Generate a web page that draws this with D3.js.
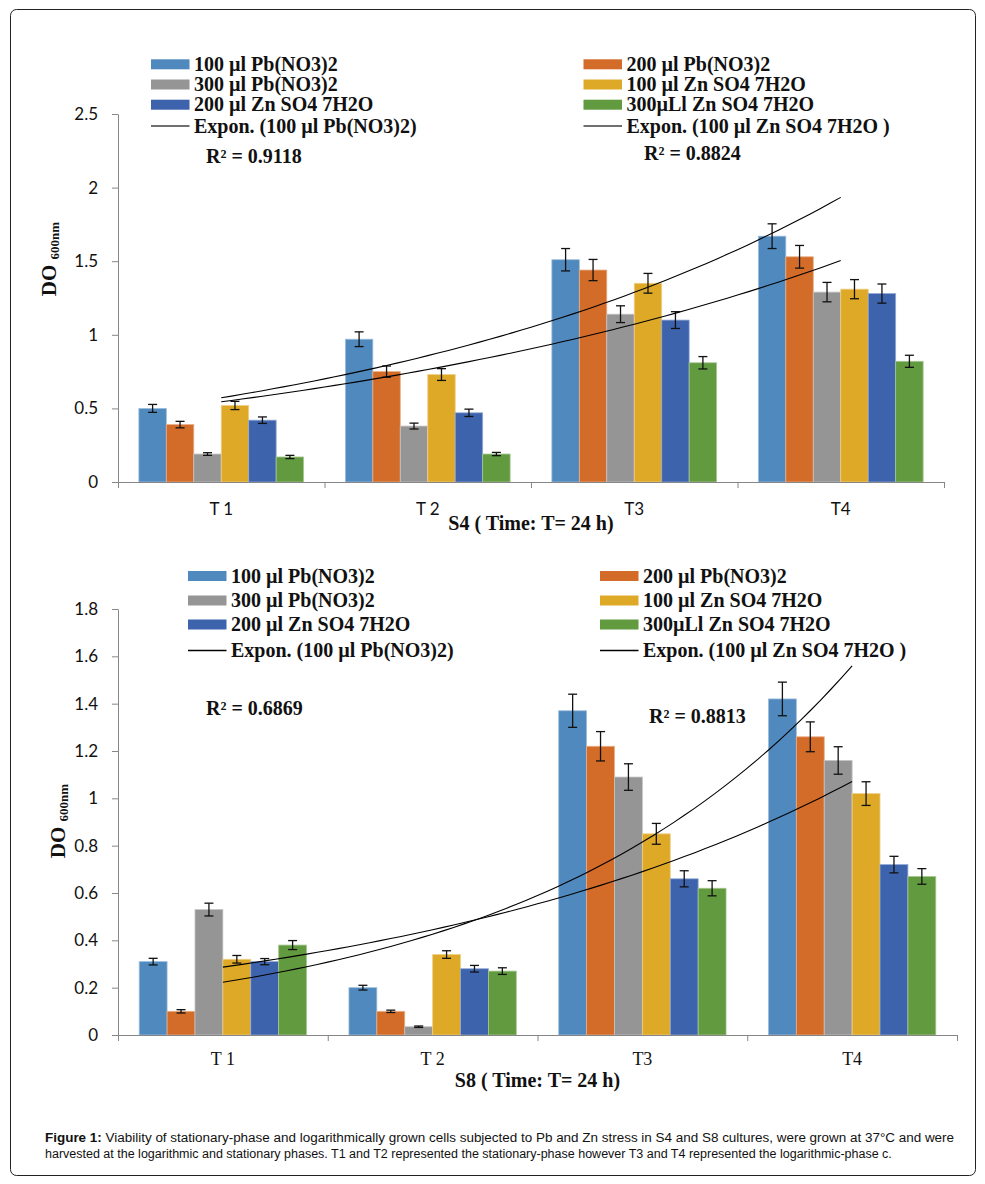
<!DOCTYPE html>
<html>
<head>
<meta charset="utf-8">
<script src="https://cdn.jsdelivr.net/npm/d3@7"></script>
<style>
  html, body { margin: 0; padding: 0; background: #fff; }
  svg { display: block; }
</style>
</head>
<body>
<script>
// ---------------- DATA ----------------
const categories = ["T 1", "T 2", "T3", "T4"];
const seriesLabels = ["100 µl Pb(NO3)2", "200 µl Pb(NO3)2", "300 µl Pb(NO3)2",
                      "100 µl Zn SO4 7H2O", "200 µl Zn SO4 7H2O", "300µLl Zn SO4 7H2O"];
const seriesColors = ["#4F89BD", "#D36C28", "#959595", "#DFA928", "#3D63AD", "#619A3F"];

// S4 culture
const s4Pb100 = [0.50, 0.97, 1.51, 1.67];
const s4Pb200 = [0.39, 0.75, 1.44, 1.53];
const s4Pb300 = [0.19, 0.38, 1.14, 1.29];
const s4Zn100 = [0.52, 0.73, 1.35, 1.31];
const s4Zn200 = [0.42, 0.47, 1.10, 1.28];
const s4Zn300 = [0.17, 0.19, 0.81, 0.82];
const s4ErrPb100 = [0.027, 0.05, 0.076, 0.084];
const s4ErrPb200 = [0.022, 0.038, 0.072, 0.077];
const s4ErrPb300 = [0.009, 0.02, 0.057, 0.066];
const s4ErrZn100 = [0.028, 0.04, 0.067, 0.065];
const s4ErrZn200 = [0.022, 0.025, 0.057, 0.065];
const s4ErrZn300 = [0.011, 0.011, 0.042, 0.041];
const s4Ticks = [0, 0.5, 1, 1.5, 2, 2.5];
const s4TickLabels = ["0", "0.5", "1", "1.5", "2", "2.5"];
const s4R2 = ["R² = 0.9118", "R² = 0.8824"];

// S8 culture
const s8Pb100 = [0.31, 0.20, 1.37, 1.42];
const s8Pb200 = [0.10, 0.10, 1.22, 1.26];
const s8Pb300 = [0.53, 0.035, 1.09, 1.16];
const s8Zn100 = [0.32, 0.34, 0.85, 1.02];
const s8Zn200 = [0.31, 0.28, 0.66, 0.72];
const s8Zn300 = [0.38, 0.27, 0.62, 0.67];
const s8ErrPb100 = [0.014, 0.01, 0.07, 0.071];
const s8ErrPb200 = [0.007, 0.005, 0.062, 0.063];
const s8ErrPb300 = [0.027, 0.003, 0.056, 0.058];
const s8ErrZn100 = [0.016, 0.016, 0.044, 0.05];
const s8ErrZn200 = [0.013, 0.014, 0.034, 0.035];
const s8ErrZn300 = [0.019, 0.014, 0.032, 0.033];
const s8Ticks = [0, 0.2, 0.4, 0.6, 0.8, 1, 1.2, 1.4, 1.6, 1.8];
const s8TickLabels = ["0", "0.2", "0.4", "0.6", "0.8", "1", "1.2", "1.4", "1.6", "1.8"];
const s8R2 = ["R² = 0.6869", "R² = 0.8813"];

const trendLabels = ["Expon. (100 µl Pb(NO3)2)", "Expon. (100 µl Zn SO4 7H2O )"];
const captionBold = "Figure 1:";
const captionLine1 = " Viability of stationary-phase and logarithmically grown cells subjected to Pb and Zn stress in S4 and S8 cultures, were grown at 37°C and were";
const captionLine2 = "harvested at the logarithmic and stationary phases. T1 and T2 represented the stationary-phase however T3 and T4 represented the logarithmic-phase c.";

// ---------------- HELPERS ----------------
// Excel-style exponential trendline: least squares on ln(y) vs x (x = 1..n)
function expFit(vals) {
  const n = vals.length;
  const xs = vals.map((_, i) => i + 1);
  const ls = vals.map(v => Math.log(v));
  const mx = d3.mean(xs), ml = d3.mean(ls);
  let num = 0, den = 0;
  for (let i = 0; i < n; i++) { num += (xs[i] - mx) * (ls[i] - ml); den += (xs[i] - mx) ** 2; }
  const b = num / den;
  const a = Math.exp(ml - b * mx);
  return x => a * Math.exp(b * x);
}

const W = 985, H = 1184;
const svg = d3.select("body").append("svg").attr("width", W).attr("height", H);

// frame
svg.append("rect").attr("x", 10.5).attr("y", 9.5).attr("width", 965).attr("height", 1166)
  .attr("rx", 6).attr("fill", "none").attr("stroke", "#222").attr("stroke-width", 1);

const SERIF = "'Liberation Serif', 'Times New Roman', serif";
const SANS = "Lato, 'Liberation Sans', sans-serif";

function drawChart(cfg) {
  const g = svg.append("g");
  const values = cfg.values, errors = cfg.errors;

  const y = d3.scaleLinear().domain([0, cfg.yMax]).range([cfg.y0, cfg.y1]);
  const x = d3.scaleBand().domain(categories).range([cfg.x0, cfg.x1]).padding(0);
  const xi = d3.scaleBand().domain(d3.range(seriesLabels.length)).range([0, x.bandwidth()])
    .paddingInner(0).paddingOuter(0.76);
  const xt = d3.scaleLinear().domain([0.5, categories.length + 0.5]).range([cfg.x0, cfg.x1]);

  // bars
  const groups = g.append("g").selectAll("g").data(categories).join("g")
    .attr("transform", d => `translate(${x(d)},0)`);
  groups.selectAll("rect").data((d, ci) => values.map((s, si) => ({ si, v: s[ci], e: errors[si][ci] })))
    .join("rect")
    .attr("x", d => xi(d.si))
    .attr("width", xi.bandwidth())
    .attr("y", d => y(d.v))
    .attr("height", d => y(0) - y(d.v))
    .attr("fill", d => seriesColors[d.si])
    .attr("stroke", d => d3.interpolateRgb(seriesColors[d.si], "#ffffff")(0.45))
    .attr("stroke-width", 0.8);

  // error bars
  const eb = groups.selectAll("g.eb").data((d, ci) => values.map((s, si) => ({ si, v: s[ci], e: errors[si][ci] })))
    .join("g").attr("class", "eb")
    .attr("stroke", "#111").attr("stroke-width", 1.3);
  eb.append("line")
    .attr("x1", d => xi(d.si) + xi.bandwidth() / 2).attr("x2", d => xi(d.si) + xi.bandwidth() / 2)
    .attr("y1", d => y(d.v - d.e)).attr("y2", d => y(d.v + d.e));
  eb.append("line")
    .attr("x1", d => xi(d.si) + xi.bandwidth() / 2 - 4.5).attr("x2", d => xi(d.si) + xi.bandwidth() / 2 + 4.5)
    .attr("y1", d => y(d.v + d.e)).attr("y2", d => y(d.v + d.e));
  eb.append("line")
    .attr("x1", d => xi(d.si) + xi.bandwidth() / 2 - 4.5).attr("x2", d => xi(d.si) + xi.bandwidth() / 2 + 4.5)
    .attr("y1", d => y(d.v - d.e)).attr("y2", d => y(d.v - d.e));

  // trendlines (series 0 and 3)
  const tline = d3.line().x(d => xt(d[0])).y(d => y(d[1]));
  [0, 3].forEach(si => {
    const f = expFit(values[si]);
    const pts = d3.range(1, categories.length + 0.0001, 0.05).map(t => [t, f(t)]);
    g.append("path").attr("d", tline(pts)).attr("fill", "none")
      .attr("stroke", "#000").attr("stroke-width", 1.1);
  });

  // y axis
  const yAxis = d3.axisLeft(y).tickValues(cfg.ticks).tickFormat((d, i) => cfg.tickLabels[i])
    .tickSize(6).tickSizeOuter(0).tickPadding(14);
  const ya = g.append("g").attr("transform", `translate(${cfg.x0},0)`).call(yAxis);
  ya.select(".domain").attr("stroke", "#868686");
  ya.selectAll(".tick line").attr("stroke", "#868686");
  ya.selectAll(".tick text").attr("font-family", SANS).attr("font-size", 17).attr("fill", "#111");

  // x axis: boundary ticks
  const xb = d3.scaleLinear().domain([0, categories.length]).range([cfg.x0, cfg.x1]);
  const xAxisB = d3.axisBottom(xb).tickValues(d3.range(categories.length + 1)).tickFormat("")
    .tickSize(6).tickSizeOuter(0);
  const xa = g.append("g").attr("transform", `translate(0,${cfg.y0})`).call(xAxisB);
  xa.select(".domain").attr("stroke", "#868686");
  xa.selectAll(".tick line").attr("stroke", "#868686");
  // category labels
  const xAxisL = d3.axisBottom(x).tickSize(0).tickPadding(0);
  const xl = g.append("g").attr("transform", `translate(0,${cfg.y0})`).call(xAxisL);
  xl.select(".domain").remove();
  xl.selectAll(".tick text").attr("font-family", cfg.xFont).attr("font-size", cfg.xFontSize)
    .attr("fill", "#111").attr("dy", null).attr("y", cfg.xLabelBase - cfg.y0);

  // axis titles
  const xc = (cfg.x0 + cfg.x1) / 2;
  g.append("text").attr("x", xc).attr("y", cfg.titleBase).attr("text-anchor", "middle")
    .attr("font-family", SERIF).attr("font-weight", "bold").attr("font-size", 20).attr("fill", "#111")
    .text(cfg.title);
  const yt = g.append("text").attr("transform", `translate(${cfg.doX},${cfg.doY}) rotate(-90)`)
    .attr("text-anchor", "middle").attr("font-family", SERIF).attr("font-weight", "bold").attr("fill", "#111");
  yt.append("tspan").attr("font-size", 21).text("DO ");
  yt.append("tspan").attr("font-size", 13).attr("dy", 3).text("600nm");

  // legend
  const leftItems = [0, 2, 4], rightItems = [1, 3, 5];
  function legendCol(items, trendIdx, sx, rows) {
    items.forEach((si, k) => {
      g.append("rect").attr("x", sx).attr("y", rows[k] - 5).attr("width", 38.5).attr("height", 10)
        .attr("fill", seriesColors[si]);
      g.append("text").attr("x", sx + 43).attr("y", rows[k] + 6.5)
        .attr("font-family", SERIF).attr("font-weight", "bold").attr("font-size", 20).attr("fill", "#111")
        .text(seriesLabels[si]);
    });
    g.append("line").attr("x1", sx).attr("x2", sx + 38.5).attr("y1", rows[3]).attr("y2", rows[3])
      .attr("stroke", cfg.legendLine).attr("stroke-width", 1.3);
    g.append("text").attr("x", sx + 43).attr("y", rows[3] + 6.5)
      .attr("font-family", SERIF).attr("font-weight", "bold").attr("font-size", 20).attr("fill", "#111")
      .text(trendLabels[trendIdx]);
  }
  legendCol(leftItems, 0, cfg.legLeftX, cfg.legRows);
  legendCol(rightItems, 1, cfg.legRightX, cfg.legRows);

  // R² labels
  cfg.r2.forEach((t, i) => {
    g.append("text").attr("x", cfg.r2Pos[i][0]).attr("y", cfg.r2Pos[i][1] + 6.5)
      .attr("font-family", SERIF).attr("font-weight", "bold").attr("font-size", 20).attr("fill", "#111")
      .text(t);
  });
}

drawChart({
  values: [s4Pb100, s4Pb200, s4Pb300, s4Zn100, s4Zn200, s4Zn300],
  errors: [s4ErrPb100, s4ErrPb200, s4ErrPb300, s4ErrZn100, s4ErrZn200, s4ErrZn300],
  yMax: 2.5, y0: 482, y1: 114, x0: 118, x1: 944,
  ticks: s4Ticks, tickLabels: s4TickLabels,
  xFont: SANS, xFontSize: 17, xLabelBase: 515,
  title: "S4 ( Time: T= 24 h)", titleBase: 530,
  doX: 56, doY: 259,
  legLeftX: 151, legRightX: 583.5, legRows: [64.3, 84.5, 104.7, 126], legendLine: "#404040",
  r2: s4R2, r2Pos: [[206, 156], [644, 153.5]]
});

drawChart({
  values: [s8Pb100, s8Pb200, s8Pb300, s8Zn100, s8Zn200, s8Zn300],
  errors: [s8ErrPb100, s8ErrPb200, s8ErrPb300, s8ErrZn100, s8ErrZn200, s8ErrZn300],
  yMax: 1.8, y0: 1035, y1: 609, x0: 118, x1: 957,
  ticks: s8Ticks, tickLabels: s8TickLabels,
  xFont: SERIF, xFontSize: 18, xLabelBase: 1065,
  title: "S8 ( Time: T= 24 h)", titleBase: 1087,
  doX: 65, doY: 821,
  legLeftX: 188, legRightX: 600, legRows: [576, 600.5, 624.5, 650.5], legendLine: "#000",
  r2: s8R2, r2Pos: [[206, 708], [649, 716.5]]
});

// caption: narrow sans, scaled horizontally to the reference line widths
const CAP = "'Liberation Sans Narrow', 'Arial Narrow', 'Liberation Sans', Arial, sans-serif";
function captionLine(yBase, targetWidth, parts) {
  const cg = svg.append("g").attr("transform", `translate(45,${yBase})`);
  const t = cg.append("text").attr("x", 0).attr("y", 0).attr("font-family", CAP)
    .attr("font-size", 13.5).attr("fill", "#111");
  parts.forEach(p => t.append("tspan").attr("font-weight", p.bold ? "bold" : null).text(p.text));
  const natural = t.node().getComputedTextLength();
  cg.attr("transform", `translate(45,${yBase}) scale(${targetWidth / natural},1)`);
}
captionLine(1142, 910, [{ text: captionBold, bold: true }, { text: captionLine1 }]);
captionLine(1158, 848, [{ text: captionLine2 }]);
</script>
</body>
</html>
